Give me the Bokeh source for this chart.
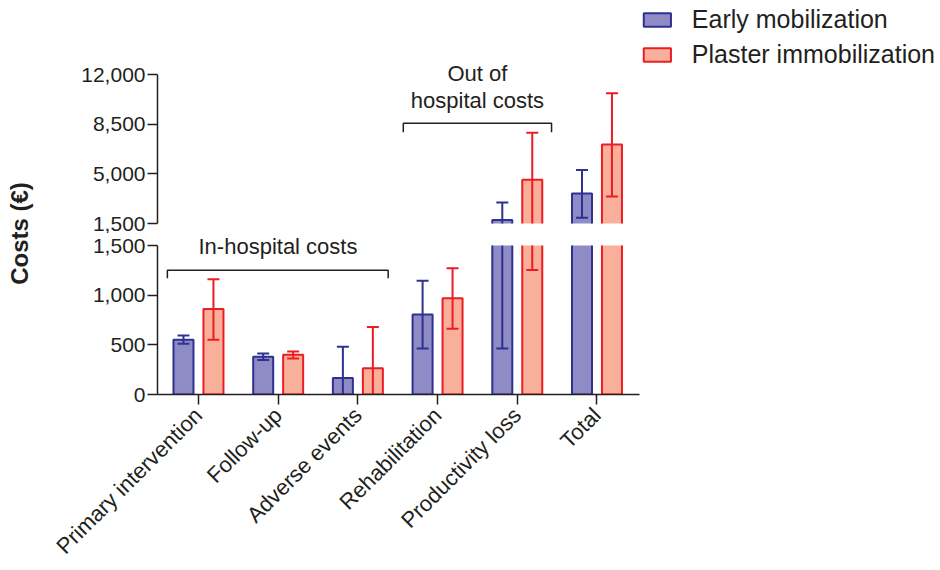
import numpy as np
from math import pi
from bokeh.plotting import figure
from bokeh.layouts import row, column
from bokeh.models import (Range1d, FixedTicker, NumeralTickFormatter, Legend, LegendItem, Label,
                          Title, ColumnDataSource, CDSView, BooleanFilter)
from bokeh.embed import file_html
from bokeh.resources import INLINE

# ---------------- data ----------------
categories = ["Primary intervention", "Follow-up", "Adverse events",
              "Rehabilitation", "Productivity loss", "Total"]
early_mean = [550, 380, 167, 806, 1740, 3620]
early_low = [510, 348, -146, 463, 463, 1900]
early_high = [594, 412, 480, 1146, 2980, 5270]
plaster_mean = [860, 399, 265, 968, 4585, 7060]
plaster_low = [550, 362, -149, 662, 1254, 3400]
plaster_high = [1160, 432, 679, 1271, 7900, 10680]
series_names = ["Early mobilization", "Plaster immobilization"]
y_ticks_low = [0, 500, 1000, 1500]
y_ticks_high = [1500, 5000, 8500, 12000]
in_hospital_label = "In-hospital costs"
out_hospital_label = ["Out of", "hospital costs"]
y_title = "Costs (€)"

# ---------------- style ----------------
FONT = "Liberation Sans"
TXT = "#231F20"
E_FILL, E_LINE = "#8F8BC4", "#2E3192"
P_FILL, P_LINE = "#F8B09A", "#ED1C24"

idx = np.arange(len(categories))
OFF, BW, CAP = 0.188, 0.251, 0.075
X0, X1, AX_END = -0.514, 9.31, 5.533


def style_y(p, ticks, bounds):
    ax = p.yaxis[0]
    ax.ticker = FixedTicker(ticks=ticks)
    ax.formatter = NumeralTickFormatter(format="0,0")
    ax.bounds = bounds
    ax.axis_line_width = 1.5
    ax.axis_line_color = TXT
    ax.major_tick_line_width = 1.5
    ax.major_tick_line_color = TXT
    ax.major_tick_out = 10
    ax.major_tick_in = 0
    ax.minor_tick_out = 0
    ax.minor_tick_in = 0
    ax.major_label_standoff = 2
    ax.major_label_text_font = FONT
    ax.major_label_text_font_size = "21px"
    ax.major_label_text_color = TXT


def make_panel(height, yr, btop, bbot, show_x, title=None):
    p = figure(width=892, height=height, x_range=Range1d(X0, X1), y_range=Range1d(*yr),
               output_backend="svg", toolbar_location=None, title=title,
               min_border_left=109, min_border_right=0, min_border_top=btop,
               min_border_bottom=bbot, x_axis_location="below" if show_x else None)
    p.outline_line_color = None
    p.grid.visible = False
    rs = []
    for off, mean, lo, hi, fc, lc in [(-OFF, early_mean, early_low, early_high, E_FILL, E_LINE),
                                      (OFF, plaster_mean, plaster_low, plaster_high, P_FILL, P_LINE)]:
        xs = idx + off
        mean = np.asarray(mean, dtype=float)
        src = ColumnDataSource(dict(x=xs, xl=xs - CAP, xr=xs + CAP, mid=mean / 2,
                                    mean=mean, lo=lo, hi=hi))
        # only marks that reach into this panel's value band
        bar_view = CDSView(filter=BooleanFilter([bool(m > yr[0]) for m in mean]))
        whisk_view = CDSView(filter=BooleanFilter([bool(h > yr[0]) for h in hi]))
        r = p.rect(x="x", y="mid", width=BW, height="mean", fill_color=fc, line_color=lc,
                   line_width=2, source=src, view=bar_view)
        p.segment(x0="x", y0="lo", x1="x", y1="hi", line_color=lc, line_width=2,
                  source=src, view=whisk_view)
        p.segment(x0="xl", y0="hi", x1="xr", y1="hi", line_color=lc, line_width=2,
                  source=src, view=whisk_view)
        p.segment(x0="xl", y0="lo", x1="xr", y1="lo", line_color=lc, line_width=2,
                  source=src, view=whisk_view)
        rs.append(r)
    return p, rs


# upper panel (1,500 - 12,000)
up, urs = make_panel(233, (1500, 17215), 0, 10, False)
style_y(up, y_ticks_high, (1500, 12000))
up.line(x=[2.57, 2.57, 4.43, 4.43], y=[7925, 8560, 8560, 7925], line_color=TXT, line_width=1.5)
for t, yv in zip(out_hospital_label, [12050, 10170]):
    up.add_layout(Label(x=3.5, y=yv, text=t, text_align="center", text_baseline="alphabetic",
                        text_font=FONT, text_font_size="22px", text_color=TXT))
legend = Legend(items=[LegendItem(label=series_names[0], renderers=[urs[0]]),
                       LegendItem(label=series_names[1], renderers=[urs[1]])],
                location="top_right", border_line_color=None, background_fill_alpha=0,
                padding=0, margin=5, spacing=6, label_standoff=18, glyph_width=34, glyph_height=17,
                label_text_font=FONT, label_text_font_size="25px", label_text_color=TXT)
up.add_layout(legend)

# lower panel (0 - 1,500); the bracket caption sits in the panel's title slot
ttl = Title(text=in_hospital_label, align="left", offset=41, standoff=-26,
            text_font=FONT, text_font_size="22px", text_font_style="normal",
            text_color=TXT, vertical_align="bottom")
lo, lrs = make_panel(337, (0, 1500), 12, 175, True, title=ttl)
style_y(lo, y_ticks_low, (0, 1500))
xa = lo.xaxis[0]
xa.ticker = FixedTicker(ticks=[int(i) for i in idx])
xa.major_label_overrides = {int(i): c for i, c in zip(idx, categories)}
xa.bounds = (X0, AX_END)
xa.major_label_orientation = pi / 4
xa.axis_line_width = 1.5
xa.axis_line_color = TXT
xa.major_tick_line_width = 1.5
xa.major_tick_line_color = TXT
xa.major_tick_out = 10
xa.major_tick_in = 0
xa.minor_tick_out = 0
xa.minor_tick_in = 0
xa.major_label_standoff = 7
xa.major_label_text_font = FONT
xa.major_label_text_font_size = "22px"
xa.major_label_text_color = TXT
lo.line(x=[-0.39, -0.39, 2.38, 2.38], y=[1170, 1250, 1250, 1170], line_color=TXT, line_width=1.5)

# y-axis title column
tf = figure(width=48, height=570, x_range=Range1d(0, 48), y_range=Range1d(0, 570),
            output_backend="svg", toolbar_location=None, min_border=0,
            x_axis_location=None, y_axis_location=None)
tf.outline_line_color = None
tf.grid.visible = False
tf.add_layout(Label(x=19, y=337, text=y_title, angle=pi / 2, text_align="center",
                    text_baseline="middle", text_font=FONT, text_font_style="bold",
                    text_font_size="24px", text_color=TXT))

layout = row(tf, column(up, lo, spacing=0), spacing=0)
open("out.html", "w").write(file_html(layout, INLINE))
